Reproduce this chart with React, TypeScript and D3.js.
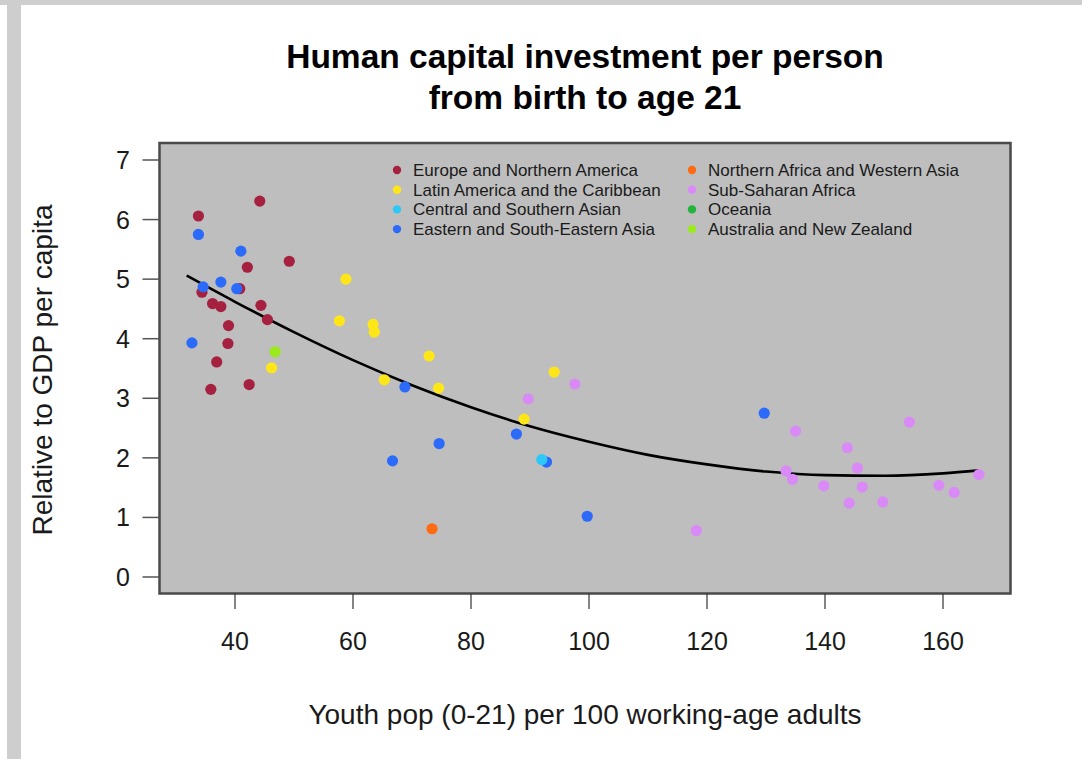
import React from "react";
import * as d3 from "d3";

const regions = [
  "Europe and Northern America",
  "Latin America and the Caribbean",
  "Central and Southern Asian",
  "Eastern and South-Eastern Asia",
  "Northern Africa and Western Asia",
  "Sub-Saharan Africa",
  "Oceania",
  "Australia and New Zealand",
];
const regionColors = ["#A6213F", "#FFE619", "#2CC8F8", "#2C6BFA", "#FF6A13", "#D98AF6", "#22B53C", "#9BEA1A"];

// [youth ratio, investment relative to GDP per capita]
const europe: [number, number][] = [
  [44.2, 6.31], [33.8, 6.06], [49.2, 5.3], [42.1, 5.2], [40.8, 4.84], [34.4, 4.78], [36.2, 4.59],
  [37.6, 4.54], [44.4, 4.56], [45.5, 4.32], [38.9, 4.22], [38.8, 3.92], [36.9, 3.61], [42.4, 3.23], [35.9, 3.15],
];
const latinAmerica: [number, number][] = [
  [46.2, 3.51], [58.8, 5.0], [57.7, 4.3], [63.4, 4.24], [63.6, 4.11], [72.9, 3.71], [65.3, 3.31],
  [74.5, 3.17], [94.1, 3.44], [89.0, 2.65],
];
const centralSouthAsia: [number, number][] = [[92.0, 1.97]];
const eastAsia: [number, number][] = [
  [33.8, 5.75], [41.0, 5.47], [37.6, 4.95], [34.6, 4.87], [40.3, 4.84], [32.7, 3.93], [68.8, 3.19],
  [74.6, 2.24], [66.7, 1.95], [87.7, 2.4], [92.8, 1.93], [99.7, 1.02], [129.7, 2.75],
];
const northAfricaWestAsia: [number, number][] = [[73.4, 0.81]];
const subSaharan: [number, number][] = [
  [89.7, 2.99], [97.6, 3.24], [118.2, 0.78], [135.0, 2.45], [154.3, 2.6], [143.8, 2.17], [145.5, 1.83],
  [133.4, 1.78], [134.5, 1.64], [139.8, 1.53], [146.3, 1.51], [159.3, 1.54], [161.9, 1.42], [166.1, 1.72],
  [144.1, 1.24], [149.8, 1.26],
];
const oceania: [number, number][] = [];
const ausNz: [number, number][] = [[46.8, 3.78]];

const seriesData = [europe, latinAmerica, centralSouthAsia, eastAsia, northAfricaWestAsia, subSaharan, oceania, ausNz];
// draw order (as in the picture: eastern asia drawn over europe)
const drawOrder = [0, 1, 5, 3, 2, 4, 6, 7];

// fitted curve
const curveX = [31.8, 40, 50, 60, 70, 80, 90, 100, 110, 120, 130, 140, 150, 160, 166.1];
const curveY = [5.06, 4.62, 4.11, 3.64, 3.22, 2.85, 2.53, 2.27, 2.05, 1.89, 1.77, 1.71, 1.7, 1.74, 1.79];

const xTicks = [40, 60, 80, 100, 120, 140, 160];
const yTicks = [0, 1, 2, 3, 4, 5, 6, 7];

const titleLines = ["Human capital investment per person", "from birth to age 21"];
const xLabel = "Youth pop (0-21) per 100 working-age adults";
const yLabel = "Relative to GDP per capita";

export default function App() {
  const W = 1082, H = 759;
  const box = { l: 159.5, t: 143, r: 1010.5, b: 593.5 };
  const x = d3.scaleLinear().domain([40, 160]).range([235, 943]);
  const y = d3.scaleLinear().domain([0, 7]).range([577, 160]);
  const line = d3.line<number>().x((d) => x(curveX[d])).y((d) => y(curveY[d])).curve(d3.curveMonotoneX);
  const font = "'Liberation Sans', Arial, Helvetica, sans-serif";
  const txt = "#1a1a1a";

  return (
    <svg width={W} height={H} style={{ position: "absolute", left: 0, top: 0 }} fontFamily={font}>
      <rect x={0} y={0} width={W} height={H} fill="#ffffff" />
      <rect x={0} y={0} width={W} height={5} fill="#cecece" />
      <rect x={7} y={0} width={14} height={H} fill="#cecece" />

      {titleLines.map((t, i) => (
        <text key={t} x={585} y={68 + i * 41} textAnchor="middle" fontSize={33.5} fontWeight="bold" fill="#000">
          {t}
        </text>
      ))}

      <rect x={box.l} y={box.t} width={box.r - box.l} height={box.b - box.t} fill="#bebebe" stroke="#4a4a4a" strokeWidth={2.5} />

      <path d={line(d3.range(curveX.length)) || ""} fill="none" stroke="#000" strokeWidth={2.6} />

      {drawOrder.map((si) =>
        seriesData[si].map((p, j) => (
          <circle key={`${si}-${j}`} cx={x(p[0])} cy={y(p[1])} r={5.6} fill={regionColors[si]} />
        ))
      )}

      {/* y axis */}
      {yTicks.map((v) => (
        <g key={v}>
          <line x1={142.5} x2={box.l} y1={y(v)} y2={y(v)} stroke="#555" strokeWidth={1.5} />
          <text x={130} y={y(v) + 9} textAnchor="end" fontSize={25} fill={txt}>
            {v}
          </text>
        </g>
      ))}
      {/* x axis */}
      {xTicks.map((v) => (
        <g key={v}>
          <line x1={x(v)} x2={x(v)} y1={box.b} y2={609} stroke="#333" strokeWidth={1.2} />
          <text x={x(v)} y={650} textAnchor="middle" fontSize={25} fill={txt}>
            {v}
          </text>
        </g>
      ))}
      <text x={585} y={724} textAnchor="middle" fontSize={28} fill={txt}>
        {xLabel}
      </text>
      <text transform={`translate(52,370) rotate(-90)`} textAnchor="middle" fontSize={28} fill={txt}>
        {yLabel}
      </text>

      {/* legend */}
      {regions.map((r, i) => {
        const col = Math.floor(i / 4);
        const row = i % 4;
        const lx = col === 0 ? 397 : 692;
        const ly = 170 + row * 19.7;
        return (
          <g key={r}>
            <circle cx={lx} cy={ly} r={4.2} fill={regionColors[i]} />
            <text x={lx + 16} y={ly + 6} fontSize={17} fill={txt}>
              {r}
            </text>
          </g>
        );
      })}
    </svg>
  );
}
